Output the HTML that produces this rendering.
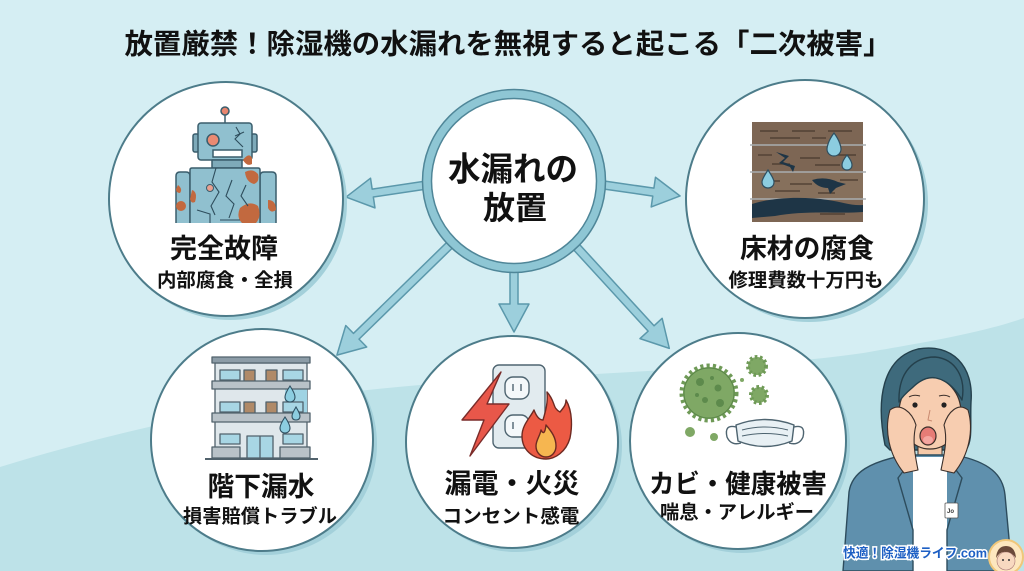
<!DOCTYPE html>
<html>
<head>
<meta charset="utf-8">
<style>
html,body{margin:0;padding:0;background:#d5eef3;}
svg{display:block;}
text{font-family:"Liberation Sans","Noto Sans CJK JP",sans-serif;font-weight:700;fill:#111;}
</style>
</head>
<body>
<svg width="1024" height="571" viewBox="0 0 1024 571" xmlns="http://www.w3.org/2000/svg">
<!-- background -->
<rect width="1024" height="571" fill="#d5eef3"/>
<path d="M0,467 C120,430 260,398 420,385 C600,372 800,366 880,350 C940,340 990,330 1024,318 L1024,571 L0,571 Z" fill="#bde2e8"/>

<!-- title -->
<text x="508" y="44" font-size="28" text-anchor="middle" dominant-baseline="central" textLength="767" lengthAdjust="spacingAndGlyphs">放置厳禁！除湿機の水漏れを無視すると起こる「二次被害」</text>

<!-- arrows -->
<g fill="#9ccfdc" stroke="#5b98ab" stroke-width="1.5" stroke-linejoin="round">
  <path transform="translate(440,183) rotate(171.5)" d="M0,-4 H68 V-15 L95,0 L68,15 V4 H0 Z"/>
  <path transform="translate(590,183) rotate(8.2)" d="M0,-4 H64 V-15 L91,0 L64,15 V4 H0 Z"/>
  <path transform="translate(460,235) rotate(135.7)" d="M0,-4 H145 V-15 L172,0 L145,15 V4 H0 Z"/>
  <path transform="translate(514,262) rotate(90)" d="M0,-4 H42 V-15 L70,0 L42,15 V4 H0 Z"/>
  <path transform="translate(570,240) rotate(47.5)" d="M0,-4 H120 V-15 L147,0 L120,15 V4 H0 Z"/>
</g>

<!-- outer circles: shadows -->
<g fill="#a3d0da">
  <circle cx="230" cy="203" r="117"/>
  <circle cx="809" cy="203" r="119"/>
  <circle cx="266" cy="444" r="111"/>
  <circle cx="516" cy="446" r="106"/>
  <circle cx="742" cy="445" r="108"/>
</g>
<g fill="#ffffff" stroke="#4d7c8a" stroke-width="2">
  <circle cx="226" cy="199" r="117"/>
  <circle cx="805" cy="199" r="119"/>
  <circle cx="262" cy="440" r="111"/>
  <circle cx="512" cy="442" r="106"/>
  <circle cx="738" cy="441" r="108"/>
</g>

<!-- center circle -->
<circle cx="514" cy="181" r="87" fill="#ffffff" stroke="#8ec6d4" stroke-width="9"/>
<circle cx="514" cy="181" r="91.5" fill="none" stroke="#4f8698" stroke-width="1.5"/>
<circle cx="514" cy="181" r="82.5" fill="none" stroke="#4f8698" stroke-width="1.5"/>
<text x="513" y="169" font-size="33" text-anchor="middle" dominant-baseline="central" textLength="130" lengthAdjust="spacingAndGlyphs">水漏れの</text>
<text x="515" y="208" font-size="32" text-anchor="middle" dominant-baseline="central">放置</text>

<!-- robot icon -->
<g stroke="#3a5d6c" stroke-width="1.5" stroke-linejoin="round">
  <line x1="225" y1="115" x2="225" y2="123"/>
  <circle cx="225" cy="111" r="4" fill="#e8866f"/>
  <rect x="193" y="134" width="6" height="18" rx="2" fill="#7eaab9"/>
  <rect x="251" y="134" width="6" height="18" rx="2" fill="#7eaab9"/>
  <rect x="198" y="123" width="54" height="37" rx="3" fill="#90c0cf"/>
  <rect x="212" y="160" width="30" height="8" fill="#7eaab9"/>
  <path d="M190,223 V176 Q190,172 186,172 H180 Q176,172 176,176 V223" fill="#90c0cf"/>
  <path d="M260,223 V176 Q260,172 264,172 H272 Q276,172 276,176 V223" fill="#90c0cf"/>
  <path d="M190,223 V170 Q190,168 192,168 H258 Q260,168 260,170 V223" fill="#90c0cf"/>
</g>
<g fill="#c2693f">
  <path d="M243,160 q6,-8 9,-2 v6 q-5,3 -9,-4z"/>
  <path d="M245,172 q8,-4 13,2 q2,8 -4,10 q-8,-2 -9,-12z"/>
  <path d="M240,208 q10,-8 18,-2 q4,10 -2,17 h-14 q-6,-6 -2,-15z"/>
  <path d="M192,190 q6,2 3,12 q-4,2 -5,-3z"/>
  <circle cx="181" cy="206" r="5"/>
  <path d="M268,200 q8,0 8,10 q-5,4 -8,-2z"/>
  <path d="M178,185 q5,4 2,8 q-4,0 -4,-4z"/>
</g>
<g stroke="#3a5d6c" stroke-width="1.5">
  <circle cx="213" cy="140" r="6" fill="#ea8a72"/>
  <rect x="213" y="150" width="29" height="7" fill="#ffffff"/>
  <circle cx="210" cy="188" r="3.5" fill="#e8a090" stroke-width="1"/>
</g>
<g stroke="#2e4d5c" stroke-width="1.1" fill="none">
  <path d="M236,127 L240,134 L235,139 L243,147"/>
  <path d="M235,136 L244,132"/>
  <path d="M216,168 L212,182 L219,192 L211,206 L215,215"/>
  <path d="M232,180 L226,196 L234,204 L229,218"/>
  <path d="M246,185 L241,196 L248,206"/>
  <path d="M197,210 L210,214 L210,223"/>
  <path d="M220,220 H240"/>
</g>

<!-- floor icon -->
<rect x="752" y="122" width="111" height="100" fill="#7d6654"/>
<rect x="752" y="172" width="111" height="27" fill="#86705c"/>
<g stroke="#4a3a2e" stroke-width="1.2">
  <line x1="760" y1="131" x2="778" y2="131"/><line x1="792" y1="131" x2="815" y2="131"/><line x1="828" y1="131" x2="852" y2="131"/>
  <line x1="770" y1="138" x2="800" y2="138"/><line x1="812" y1="138" x2="826" y2="138"/>
  <line x1="758" y1="155" x2="772" y2="155"/><line x1="800" y1="158" x2="820" y2="158"/><line x1="835" y1="155" x2="856" y2="155"/>
  <line x1="772" y1="164" x2="790" y2="164"/><line x1="815" y1="165" x2="840" y2="165"/>
  <line x1="762" y1="181" x2="780" y2="181"/><line x1="790" y1="184" x2="812" y2="184"/><line x1="840" y1="180" x2="858" y2="180"/>
  <line x1="775" y1="191" x2="800" y2="191"/><line x1="818" y1="193" x2="835" y2="193"/>
  <line x1="760" y1="211" x2="780" y2="211"/><line x1="820" y1="214" x2="845" y2="214"/>
</g>
<g stroke="#a9aeb0" stroke-width="1.6">
  <line x1="750" y1="145" x2="866" y2="145"/>
  <line x1="750" y1="172" x2="866" y2="172"/>
  <line x1="750" y1="199" x2="866" y2="199"/>
</g>
<g fill="#1e3546">
  <path d="M776,152 L789,156 L783,162 L795,166 L793,172 L790,167 L779,163 L785,158 Z"/>
  <path d="M812,180 Q825,176 838,182 L846,184 L836,188 L830,194 L828,188 Q818,188 812,180 Z"/>
  <path d="M752,204 C770,198 800,196 828,200 C842,202 852,206 863,205 L863,212 C840,214 805,210 775,216 L752,218 Z"/>
</g>
<g fill="#8ccde0" stroke="#2f4f60" stroke-width="1.2">
  <path d="M834,133 C840,141 841,147 841,149 C841,153 838,156 834,156 C830,156 827,153 827,149 C827,147 828,141 834,133 Z"/>
  <path d="M847,155 C851,160 852,163 852,165 C852,168 850,170 847,170 C844,170 842,168 842,165 C842,163 843,160 847,155 Z"/>
  <path d="M768,170 C772,176 774,180 774,182 C774,186 771,188 768,188 C765,188 762,186 762,182 C762,180 764,176 768,170 Z"/>
</g>

<!-- building icon -->
<g stroke="#51626c" stroke-width="1.3" stroke-linejoin="round">
  <rect x="215" y="363" width="92" height="95" fill="#dfe7eb"/>
  <rect x="212" y="357" width="98" height="6" fill="#8c9ca7"/>
  <rect x="285" y="382" width="22" height="40" fill="#9fd3e3" stroke="none"/>
  <g fill="#a8d6e4">
    <rect x="220" y="370" width="20" height="10"/><rect x="283" y="370" width="20" height="10"/>
    <rect x="220" y="402" width="20" height="10"/><rect x="283" y="402" width="20" height="10"/>
    <rect x="220" y="434" width="20" height="10"/><rect x="283" y="434" width="20" height="10"/>
  </g>
  <g fill="#b08a68">
    <rect x="244" y="370" width="11" height="18"/><rect x="266" y="370" width="11" height="18"/>
    <rect x="244" y="402" width="11" height="18"/><rect x="266" y="402" width="11" height="18"/>
  </g>
  <g fill="#b9c2c8">
    <rect x="212" y="381" width="98" height="8"/>
    <rect x="212" y="413" width="98" height="9"/>
    <rect x="212" y="447" width="28" height="11"/>
    <rect x="280" y="447" width="30" height="11"/>
  </g>
  <rect x="247" y="436" width="26" height="22" fill="#a8d6e4"/>
  <line x1="260" y1="436" x2="260" y2="458"/>
  <line x1="205" y1="459" x2="318" y2="459" stroke-width="2"/>
</g>
<g fill="#8ccde0" stroke="#2f4f60" stroke-width="1.1">
  <path d="M290,386 C294,392 295,395 295,397 C295,400 293,402 290,402 C287,402 285,400 285,397 C285,395 286,392 290,386 Z"/>
  <path d="M296,407 C299,412 300,414 300,416 C300,419 298,420 296,420 C294,420 292,419 292,416 C292,414 293,412 296,407 Z"/>
  <path d="M285,417 C289,423 290,426 290,428 C290,431 288,433 285,433 C282,433 280,431 280,428 C280,426 281,423 285,417 Z"/>
</g>

<!-- outlet / fire icon -->
<g stroke="#4e6470" stroke-width="1.4" stroke-linejoin="round">
  <rect x="493" y="365" width="52" height="83" rx="6" fill="#e2ebef"/>
  <rect x="505" y="377" width="24" height="22" rx="8" fill="#f4f8fa"/>
  <rect x="505" y="415" width="24" height="22" rx="8" fill="#f4f8fa"/>
  <line x1="513" y1="384" x2="513" y2="391"/><line x1="521" y1="384" x2="521" y2="391"/>
  <line x1="513" y1="422" x2="513" y2="429"/>
  <path d="M501,372 L462,420 L484,420 L470,456 L509,404 L487,404 L501,372 Z" fill="#e8574a" stroke="#7a2c2a"/>
  <path d="M547,392 C556,402 552,408 560,412 C565,406 566,404 566,400 C573,412 572,428 570,438 C566,452 555,459 546,459 C533,459 522,450 522,436 C522,425 530,418 534,410 C537,418 540,420 543,420 C546,410 548,402 547,392 Z" fill="#ec5a44" stroke="#6e2a22"/>
  <path d="M546,425 C552,432 556,438 556,446 C556,452 552,457 546,457 C540,457 536,452 536,446 C536,440 540,436 541,430 C543,434 545,434 546,425 Z" fill="#f6b650" stroke="#6e2a22"/>
</g>

<!-- mold icon -->
<g>
  <circle cx="709" cy="393" r="26" fill="#7fa865" stroke="#6f9a57" stroke-width="7" stroke-dasharray="3 3"/>
  <circle cx="709" cy="393" r="25" fill="#7fa865" stroke="#5a8648" stroke-width="1"/>
  <g fill="#5d8a4c">
    <circle cx="700" cy="382" r="4"/><circle cx="718" cy="388" r="3.5"/><circle cx="705" cy="400" r="3"/>
    <circle cx="720" cy="403" r="4"/><circle cx="697" cy="395" r="2"/><circle cx="712" cy="378" r="2"/>
  </g>
  <circle cx="757" cy="366" r="9" fill="#7fa865" stroke="#6f9a57" stroke-width="4" stroke-dasharray="2.5 2.5"/>
  <circle cx="759" cy="395" r="8" fill="#7fa865" stroke="#6f9a57" stroke-width="4" stroke-dasharray="2.5 2.5"/>
  <circle cx="690" cy="432" r="5" fill="#7fa865"/>
  <circle cx="714" cy="437" r="4" fill="#7fa865"/>
  <circle cx="742" cy="380" r="2" fill="#7fa865"/>
</g>
<g stroke="#4e6470" stroke-width="1.4" fill="none" stroke-linejoin="round">
  <path d="M736,425 Q765,414 794,425 L792,441 Q765,452 738,441 Z" fill="#e8f0f4"/>
  <path d="M736,427 Q724,424 727,437 Q731,446 741,443"/>
  <path d="M794,427 Q806,424 803,437 Q799,446 789,443"/>
  <path d="M742,430 Q765,424 788,430" stroke-width="1"/>
  <path d="M742,436 Q765,431 788,436" stroke-width="1"/>
</g>

<!-- circle labels -->
<text x="224" y="249" font-size="27" text-anchor="middle" dominant-baseline="central" textLength="108" lengthAdjust="spacingAndGlyphs">完全故障</text>
<text x="225" y="281" font-size="19" text-anchor="middle" dominant-baseline="central" textLength="136" lengthAdjust="spacingAndGlyphs">内部腐食・全損</text>
<text x="807" y="249" font-size="27" text-anchor="middle" dominant-baseline="central" textLength="134" lengthAdjust="spacingAndGlyphs">床材の腐食</text>
<text x="806" y="281" font-size="19" text-anchor="middle" dominant-baseline="central" textLength="155" lengthAdjust="spacingAndGlyphs">修理費数十万円も</text>
<text x="261" y="487" font-size="27" text-anchor="middle" dominant-baseline="central" textLength="107" lengthAdjust="spacingAndGlyphs">階下漏水</text>
<text x="260" y="517" font-size="19" text-anchor="middle" dominant-baseline="central" textLength="154" lengthAdjust="spacingAndGlyphs">損害賠償トラブル</text>
<text x="512" y="484" font-size="27" text-anchor="middle" dominant-baseline="central" textLength="135" lengthAdjust="spacingAndGlyphs">漏電・火災</text>
<text x="511" y="517" font-size="19" text-anchor="middle" dominant-baseline="central" textLength="137" lengthAdjust="spacingAndGlyphs">コンセント感電</text>
<text x="738" y="484" font-size="26" text-anchor="middle" dominant-baseline="central" textLength="178" lengthAdjust="spacingAndGlyphs">カビ・健康被害</text>
<text x="737" y="513" font-size="19" text-anchor="middle" dominant-baseline="central" textLength="154" lengthAdjust="spacingAndGlyphs">喘息・アレルギー</text>

<!-- woman -->
<g stroke="#24404c" stroke-width="1.4" stroke-linejoin="round">
  <path d="M885,445 C876,400 882,358 918,349 C952,343 974,366 971,402 C970,425 973,440 966,450 L890,450 Z" fill="#3e6a7c"/>
  <rect x="918" y="438" width="24" height="24" fill="#f5c9a8" stroke="#3b2f2a" stroke-width="1"/>
  <path d="M843,571 L849,492 C852,472 870,462 905,455 L955,455 C990,462 1003,475 1005,495 L1012,571 Z" fill="#5f90ad" stroke="#2d4c5d"/>
  <path d="M913,457 L947,457 L947,571 L913,571 Z" fill="#ffffff" stroke="none"/>
  <path d="M913,458 L898,478 L913,530 L913,571" fill="none" stroke="#2d4c5d"/>
  <path d="M947,458 L962,478 L947,530 L947,571" fill="none" stroke="#2d4c5d"/>
  <ellipse cx="930" cy="413" rx="31" ry="36" fill="#f7cdb0" stroke="#3b2f2a" stroke-width="1.2"/>
  <path d="M899,402 C898,372 914,357 935,357 C956,359 966,378 962,400 C955,388 946,380 936,378 C926,376 918,382 912,388 C906,393 902,397 899,402 Z" fill="#3e6a7c"/>
  <path d="M890,410 C884,430 889,455 904,473 L918,470 C915,455 912,440 916,425 C912,412 900,402 890,410 Z" fill="#f7cdb0" stroke="#3b2f2a" stroke-width="1.1"/>
  <path d="M968,410 C974,430 969,455 954,473 L941,470 C944,455 948,440 944,425 C948,412 958,402 968,410 Z" fill="#f7cdb0" stroke="#3b2f2a" stroke-width="1.1"/>
  <circle cx="915" cy="405" r="2.6" fill="#222" stroke="none"/>
  <circle cx="944" cy="405" r="2.6" fill="#222" stroke="none"/>
  <path d="M909,397 Q914,394 920,396" fill="none" stroke="#3b2f2a" stroke-width="1"/>
  <path d="M939,396 Q945,394 950,397" fill="none" stroke="#3b2f2a" stroke-width="1"/>
  <path d="M930,410 L928,420 L932,421" fill="none" stroke="#c98a70" stroke-width="1"/>
  <ellipse cx="928" cy="436" rx="8" ry="9" fill="#e67c76" stroke="#3b2f2a" stroke-width="1.2"/>
  <ellipse cx="928" cy="440" rx="5" ry="4" fill="#f4a6a0" stroke="none"/>
  <rect x="945" y="503" width="13" height="15" rx="1" fill="#ffffff" stroke="#555" stroke-width="0.8"/>
</g>
<text x="947" y="513" font-size="6" style="fill:#333">Jo</text>

<!-- logo -->
<text x="915" y="553" font-size="13" text-anchor="middle" dominant-baseline="central" textLength="144" lengthAdjust="spacingAndGlyphs" style="fill:#1d5fc4;stroke:#ffffff;stroke-width:3;paint-order:stroke;">快適！除湿機ライフ.com</text>
<circle cx="1006" cy="557" r="17" fill="#fde7bf" stroke="#f0c77a" stroke-width="2"/>
<circle cx="1006" cy="561" r="9" fill="#f8d9c0" stroke="#a77" stroke-width="0.6"/>
<path d="M996,558 Q997,546 1006,546 Q1015,546 1016,558 Q1010,551 1006,552 Q1000,551 996,558 Z" fill="#6b4a3a"/>
<circle cx="1003" cy="560" r="1" fill="#333"/>
<circle cx="1009" cy="560" r="1" fill="#333"/>
</svg>
</body>
</html>
